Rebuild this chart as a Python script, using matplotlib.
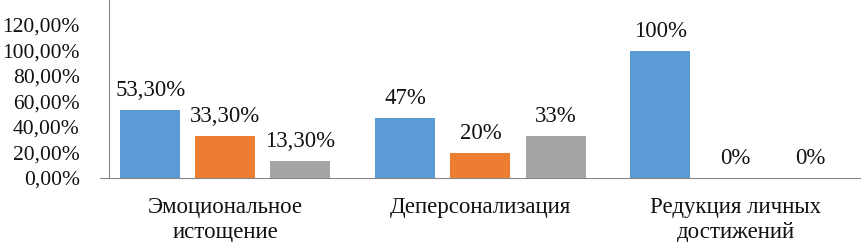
import numpy as np
import matplotlib
matplotlib.use('Agg')
import matplotlib.pyplot as plt

# Data
categories = ['Эмоциональное\nистощение', 'Деперсонализация', 'Редукция личных\nдостижений']
series_a = [53.3, 47, 100]
series_b = [33.3, 20, 0]
series_c = [13.3, 33, 0]
labels_a = ['53,30%', '47%', '100%']
labels_b = ['33,30%', '20%', '0%']
labels_c = ['13,30%', '33%', '0%']
y_ticks = [0, 20, 40, 60, 80, 100, 120]

colors = ['#5B9BD5', '#ED7D31', '#A5A5A5']
plt.rcParams['font.family'] = ['Liberation Serif', 'DejaVu Serif']
fs = 16.5
txt = '#111111'

W, H = 861, 242
fig = plt.figure(figsize=(W / 100, H / 100), dpi=100)
# axes: left spine at x=109 px, baseline at y=178 px, top at y=0
ax = fig.add_axes([109 / W, (H - 178) / H, (W - 109) / W, 178 / H])

x = np.arange(len(categories))
bw = 60 / 255
step = 75 / 255
for i, (vals, labs) in enumerate(zip([series_a, series_b, series_c], [labels_a, labels_b, labels_c])):
    pos = x + (i - 1) * step
    ax.bar(pos, vals, width=bw, color=colors[i], zorder=2)
    for p, v, t in zip(pos, vals, labs):
        ax.annotate(t, (p, v), xytext=(0, 14), textcoords='offset points',
                    ha='center', va='center', fontsize=fs, color=txt)

ax.set_xlim(-116.5 / 255, (W - 225.5) / 255)
ax.set_ylim(0, 178 / 1.275)
ax.set_yticks(y_ticks)
ax.set_yticklabels([f'{v},00%' for v in y_ticks])
ax.set_xticks(x)
ax.set_xticklabels(categories, linespacing=1.25)
ax.tick_params(axis='y', length=0, pad=21, labelsize=15.5, labelcolor=txt)
ax.tick_params(axis='x', length=0, pad=14, labelsize=fs, labelcolor=txt)

for s in ['top', 'right']:
    ax.spines[s].set_visible(False)
ax.spines['left'].set_color('#868686')
ax.spines['bottom'].set_color('#868686')
# baseline extends slightly left of the vertical axis
ax.plot([-125.5 / 255, -116.5 / 255], [0, 0], color='#868686', lw=0.8, clip_on=False)

fig.savefig('out.png', dpi=100)
